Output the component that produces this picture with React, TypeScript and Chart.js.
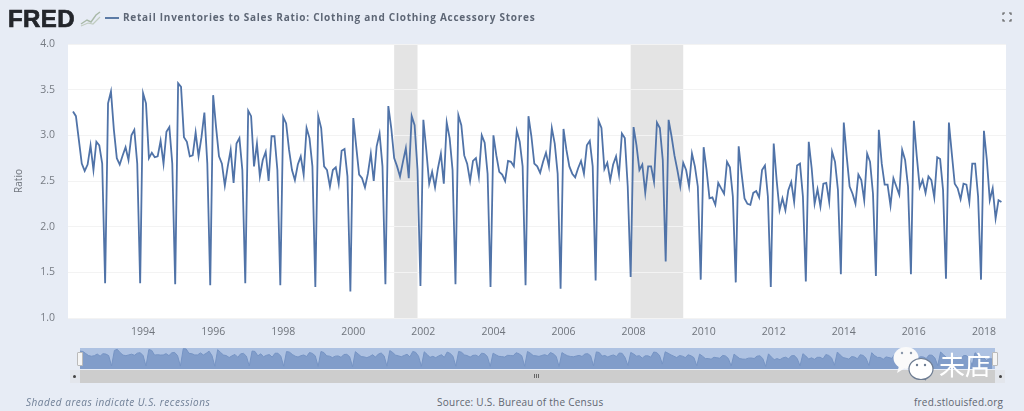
import React, { useEffect, useRef } from "react";
import { Chart, registerables } from "chart.js";

Chart.register(...registerables);

const startYear = 1992;
const ratio = [
  3.26, 3.21, 2.95, 2.69, 2.61, 2.68, 2.89, 2.62, 2.93, 2.89, 2.69, 1.38,
  3.35, 3.48, 3.06, 2.75, 2.68, 2.78, 2.87, 2.73, 3.0, 3.06, 2.69, 1.38,
  3.46, 3.35, 2.75, 2.81, 2.76, 2.77, 2.94, 2.69, 3.04, 3.09, 2.69, 1.37,
  3.57, 3.53, 2.98, 2.93, 2.77, 2.78, 3.03, 2.77, 2.98, 3.25, 2.69, 1.36,
  3.44, 3.09, 2.77, 2.69, 2.45, 2.66, 2.84, 2.48, 2.91, 2.97, 2.62, 1.38,
  3.27, 3.21, 2.66, 2.91, 2.55, 2.73, 2.82, 2.5, 2.99, 2.99, 2.62, 1.36,
  3.2, 3.13, 2.84, 2.62, 2.51, 2.68, 2.77, 2.57, 3.08, 2.97, 2.66, 1.34,
  3.21, 3.08, 2.66, 2.62, 2.44, 2.62, 2.65, 2.47, 2.83, 2.85, 2.55, 1.29,
  3.19, 2.88, 2.57, 2.53, 2.43, 2.58, 2.8, 2.5, 2.88, 3.02, 2.66, 1.37,
  3.32, 3.08, 2.75, 2.66, 2.55, 2.71, 2.86, 2.53, 3.21, 3.11, 2.62, 1.35,
  3.17, 2.84, 2.47, 2.6, 2.43, 2.64, 2.8, 2.47, 3.14, 2.97, 2.62, 1.37,
  3.22, 3.11, 2.78, 2.69, 2.5, 2.72, 2.75, 2.55, 3.0, 2.92, 2.58, 1.34,
  3.0, 2.78, 2.6, 2.57, 2.5, 2.72, 2.71, 2.66, 3.05, 2.93, 2.66, 1.36,
  3.21, 2.99, 2.69, 2.66, 2.59, 2.71, 2.81, 2.66, 3.08, 2.91, 2.58, 1.32,
  3.07, 2.84, 2.66, 2.58, 2.54, 2.64, 2.72, 2.58, 2.89, 2.94, 2.66, 1.41,
  3.16, 3.08, 2.63, 2.7, 2.51, 2.68, 2.77, 2.57, 3.02, 2.97, 2.44, 1.45,
  3.09, 2.89, 2.62, 2.68, 2.37, 2.66, 2.66, 2.49, 3.14, 3.08, 2.73, 1.62,
  3.17, 2.99, 2.78, 2.62, 2.44, 2.7, 2.62, 2.44, 2.8, 2.66, 2.44, 1.42,
  2.87, 2.62, 2.31, 2.32, 2.24, 2.48, 2.42, 2.36, 2.71, 2.65, 2.33, 1.39,
  2.88, 2.58, 2.31, 2.25, 2.24, 2.37, 2.39, 2.32, 2.62, 2.67, 2.33, 1.34,
  2.91, 2.51, 2.18, 2.31, 2.18, 2.4, 2.49, 2.27, 2.67, 2.69, 2.33, 1.4,
  2.93, 2.64, 2.25, 2.41, 2.22, 2.47, 2.48, 2.27, 2.82, 2.71, 2.4, 1.48,
  3.14, 2.77, 2.44, 2.36, 2.25, 2.57, 2.51, 2.29, 2.8, 2.71, 2.36, 1.46,
  3.06, 2.69, 2.46, 2.46, 2.23, 2.53, 2.44, 2.35, 2.84, 2.73, 2.44, 1.48,
  3.16, 2.77, 2.43, 2.51, 2.37, 2.55, 2.51, 2.32, 2.76, 2.74, 2.4, 1.43,
  3.14, 2.8, 2.47, 2.42, 2.3, 2.47, 2.46, 2.27, 2.69, 2.69, 2.33, 1.42,
  3.05, 2.73, 2.29, 2.42, 2.09, 2.29, 2.27,
];
const xTickYears = [1994, 1996, 1998, 2000, 2002, 2004, 2006, 2008, 2010, 2012, 2014, 2016, 2018];
const yTicks = [1.0, 1.5, 2.0, 2.5, 3.0, 3.5, 4.0];
const recessionStart = [2001.167, 2007.917];
const recessionEnd = [2001.833, 2009.417];
const titleText = "Retail Inventories to Sales Ratio: Clothing and Clothing Accessory Stores";

const LINE = "#5073a8";
const PAGE = "#e7ecf5";
const points = ratio.map((y, i) => ({ x: startYear + i / 12, y }));

const plotBands = {
  id: "plotBands",
  beforeDraw(chart: any) {
    const { ctx, chartArea: a, scales } = chart;
    ctx.save();
    ctx.fillStyle = "#ffffff";
    ctx.fillRect(a.left, a.top, a.width, a.height);
    ctx.fillStyle = "#e4e4e4";
    recessionStart.forEach((s, i) => {
      const x0 = scales.x.getPixelForValue(s);
      const x1 = scales.x.getPixelForValue(recessionEnd[i]);
      ctx.fillRect(x0, a.top, x1 - x0, a.height);
    });
    ctx.restore();
  },
};

const navBackground = {
  id: "navBackground",
  beforeDraw(chart: any) {
    const { ctx, width, height } = chart;
    ctx.save();
    ctx.fillStyle = "#aec2e2";
    ctx.fillRect(0, 0, width, height);
    ctx.restore();
  },
};

const abs = (left: number, top: number, width: number, height: number, extra: any = {}): any => ({
  position: "absolute",
  left,
  top,
  width,
  height,
  ...extra,
});

const textBase: any = {
  position: "absolute",
  whiteSpace: "nowrap",
  fontFamily: '"Open Sans", sans-serif',
  lineHeight: 1,
};

export default function App() {
  const mainRef = useRef<HTMLCanvasElement>(null);
  const navRef = useRef<HTMLCanvasElement>(null);

  useEffect(() => {
    const main = new Chart(mainRef.current!, {
      type: "line",
      data: {
        datasets: [
          { data: points, borderColor: LINE, borderWidth: 1.8, pointRadius: 0, tension: 0, fill: false },
        ],
      },
      plugins: [plotBands],
      options: {
        animation: false,
        responsive: false,
        events: [],
        layout: { padding: { top: 44, right: 18, left: 0, bottom: 0 } },
        plugins: { legend: { display: false }, title: { display: false }, tooltip: { enabled: false } },
        scales: {
          x: {
            type: "linear",
            min: 1991.857,
            max: 2018.63,
            afterFit(s: any) { s.height = 22; },
            afterBuildTicks(s: any) { s.ticks = xTickYears.map((value) => ({ value })); },
            grid: { display: false },
            border: { display: false },
            ticks: {
              autoSkip: false,
              maxRotation: 0,
              padding: 0,
              color: "#6f747c",
              font: { family: '"Open Sans"', size: 10.5 },
              callback: (v: any) => String(v),
            },
          },
          y: {
            min: 1,
            max: 4,
            afterFit(s: any) { s.width = 68; },
            afterBuildTicks(s: any) { s.ticks = yTicks.map((value) => ({ value })); },
            grid: { color: "#f3f3f3", lineWidth: 1, drawTicks: false },
            border: { display: false },
            ticks: {
              padding: 13,
              color: "#777c84",
              font: { family: '"Open Sans"', size: 10.5 },
              callback: (v: any) => Number(v).toFixed(1),
            },
            title: {
              display: true,
              text: "Ratio",
              color: "#6f747c",
              padding: { top: 13, bottom: 0 },
              font: { family: '"Open Sans"', size: 10 },
            },
          },
        },
      } as any,
    });

    const nav = new Chart(navRef.current!, {
      type: "line",
      data: {
        datasets: [
          {
            data: points,
            borderColor: "#7694c4",
            borderWidth: 1,
            backgroundColor: "#819dca",
            pointRadius: 0,
            tension: 0,
            fill: "origin",
          },
        ],
      },
      plugins: [navBackground],
      options: {
        animation: false,
        responsive: false,
        events: [],
        layout: { padding: 0 },
        plugins: { legend: { display: false }, title: { display: false }, tooltip: { enabled: false } },
        scales: {
          x: { type: "linear", display: false, min: 1992, max: 2018.58 },
          y: { display: false, min: 1, max: 3.65 },
        },
      } as any,
    });

    return () => {
      main.destroy();
      nav.destroy();
    };
  }, []);

  return (
    <div style={{ position: "fixed", left: 0, top: 0, width: 1024, height: 411, background: PAGE, overflow: "hidden", filter: "blur(0.55px)" }}>
      <canvas ref={mainRef} width={1024} height={340} style={abs(0, 0, 1024, 340, { display: "block" })} />
      <div style={{ ...textBase, left: 8, top: 7, fontFamily: '"Liberation Sans"', fontWeight: 700, fontSize: 24, letterSpacing: 0.4, color: "#23262b", WebkitTextStroke: "0.7px #23262b" }}>FRED</div>
      <svg style={abs(80, 9, 22, 18)} viewBox="0 0 22 18">
        <polyline points="1,15 7,11 11,13 16,6 20,3" fill="none" stroke="#a9b9a8" strokeWidth="1.4" />
        <polyline points="1,17 8,14 13,15 20,8" fill="none" stroke="#c0ccc0" strokeWidth="1.2" />
      </svg>
      <div style={abs(105, 17, 14, 2, { background: "#5c7ba6" })} />
      <div style={{ ...textBase, left: 123, top: 12, fontWeight: 700, fontSize: 10, letterSpacing: 0.745, color: "#5d6675" }}>{titleText}</div>
      <svg style={abs(1002, 12, 10, 10)} viewBox="0 0 10 10">
        <path d="M1 3V1H3M7 1H9V3M9 7V9H7M3 9H1V7" fill="none" stroke="#555" strokeWidth="1.1" />
      </svg>

      <canvas ref={navRef} width={915} height={21} style={abs(80, 348, 915, 21, { display: "block" })} />
      <div style={abs(77, 352, 6, 14, { background: "#f5f5f5", border: "1px solid #bbb", boxSizing: "border-box", borderRadius: 1 })} />
      <div style={abs(992, 352, 6, 14, { background: "#f5f5f5", border: "1px solid #bbb", boxSizing: "border-box", borderRadius: 1 })} />
      <div style={abs(80, 370, 915, 13, { background: "#cdcdcd" })} />
      <div style={abs(70, 370, 10, 13, { background: "#e3e6ec" })} />
      <div style={abs(995, 370, 10, 13, { background: "#e3e6ec" })} />
      <div style={abs(73, 375, 3, 3, { background: "#444", borderRadius: 2 })} />
      <div style={abs(999, 375, 3, 3, { background: "#444", borderRadius: 2 })} />
      <div style={abs(534, 374, 6, 4, { background: "repeating-linear-gradient(90deg,#666 0 1px,transparent 1px 2px)" })} />

      <svg style={abs(890, 344, 48, 40)} viewBox="0 0 48 40">
        <ellipse cx="16" cy="14" rx="12.5" ry="11" fill="#fafafa" />
        <path d="M9 22 L7 29 L15 24 Z" fill="#fafafa" />
        <circle cx="12" cy="9" r="1.2" fill="#8a97aa" />
        <circle cx="21" cy="9" r="1.2" fill="#8a97aa" />
        <path d="M33 31 L36 36 L27 33 Z" fill="#ffffff" stroke="#6d7c92" strokeWidth="1" />
        <ellipse cx="31" cy="25" rx="12" ry="10.5" fill="#ffffff" stroke="#6d7c92" strokeWidth="1.2" />
        <circle cx="27" cy="21" r="1.2" fill="#6d7c92" />
        <circle cx="35" cy="21" r="1.2" fill="#6d7c92" />
      </svg>
      <div style={{ ...textBase, left: 939, top: 351, fontFamily: '"Noto Sans CJK SC"', fontSize: 26, color: "#ffffff" }}>未店</div>

      <div style={{ ...textBase, left: 26, top: 397, fontStyle: "italic", fontSize: 10, letterSpacing: 0.52, color: "#6f7f96" }}>Shaded areas indicate U.S. recessions</div>
      <div style={{ ...textBase, left: 437, top: 397, fontSize: 10, letterSpacing: 0.25, color: "#5f6671" }}>Source: U.S. Bureau of the Census</div>
      <div style={{ ...textBase, left: 914, top: 397, fontSize: 10, letterSpacing: 0.2, color: "#5f6671" }}>fred.stlouisfed.org</div>
    </div>
  );
}
